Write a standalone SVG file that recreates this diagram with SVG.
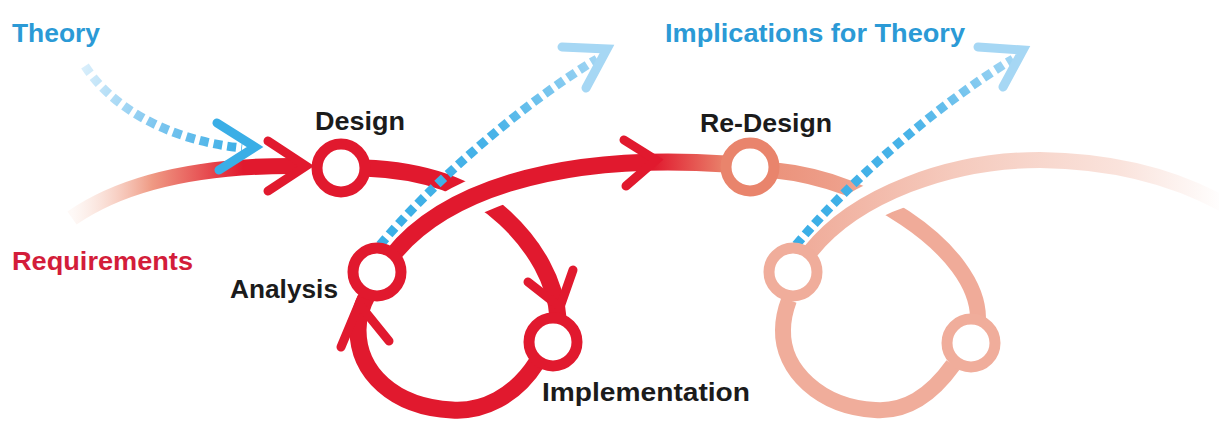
<svg xmlns="http://www.w3.org/2000/svg" width="1219" height="423" viewBox="0 0 1219 423">
<style>
.lbl{font-family:"Liberation Sans",Arial,sans-serif;font-weight:bold;font-size:26px}
.blk{fill:#1b1b1b}
.blu{fill:#2b9ad6}
.redt{fill:#d31d3a}
.red{fill:none;stroke:#e1192e;stroke-width:17}
.chev{fill:none;stroke-width:9;stroke-linecap:round;stroke-linejoin:miter}
.dash{fill:none;stroke-width:9;stroke-dasharray:9 5}
.ring{fill:#ffffff;stroke-width:11}
.case{fill:none;stroke:#ffffff;stroke-width:36}
</style>
<defs>
<linearGradient id="gReq" gradientUnits="userSpaceOnUse" x1="72" y1="0" x2="300" y2="0">
<stop offset="0" stop-color="#f8d6c8" stop-opacity="0.15"/>
<stop offset="0.35" stop-color="#ef9a84"/>
<stop offset="0.75" stop-color="#e1192e"/>
<stop offset="1" stop-color="#e1192e"/>
</linearGradient>
<linearGradient id="gTheory" gradientUnits="userSpaceOnUse" x1="85" y1="66" x2="245" y2="148">
<stop offset="0" stop-color="#d8eefb"/>
<stop offset="0.5" stop-color="#7ec6ef"/>
<stop offset="1" stop-color="#3aaee6"/>
</linearGradient>
<linearGradient id="gUp1" gradientUnits="userSpaceOnUse" x1="380" y1="245" x2="603" y2="55">
<stop offset="0" stop-color="#3aaee6"/>
<stop offset="0.55" stop-color="#48b3e8"/>
<stop offset="1" stop-color="#a6d7f4"/>
</linearGradient>
<linearGradient id="gUp2" gradientUnits="userSpaceOnUse" x1="796" y1="245" x2="1019" y2="55">
<stop offset="0" stop-color="#3aaee6"/>
<stop offset="0.55" stop-color="#48b3e8"/>
<stop offset="1" stop-color="#a6d7f4"/>
</linearGradient>
<linearGradient id="gMain" gradientUnits="userSpaceOnUse" x1="392" y1="0" x2="726" y2="0">
<stop offset="0" stop-color="#e1192e"/>
<stop offset="0.78" stop-color="#e1192e"/>
<stop offset="1" stop-color="#e9846c"/>
</linearGradient>
<linearGradient id="gTail" gradientUnits="userSpaceOnUse" x1="772" y1="0" x2="900" y2="0">
<stop offset="0" stop-color="#eb927b"/>
<stop offset="1" stop-color="#f0ab99"/>
</linearGradient>
<linearGradient id="gLight" gradientUnits="userSpaceOnUse" x1="808" y1="0" x2="1225" y2="0">
<stop offset="0" stop-color="#f0ad9b"/>
<stop offset="0.35" stop-color="#f5cabd"/>
<stop offset="0.75" stop-color="#fae3dc"/>
<stop offset="1" stop-color="#ffffff"/>
</linearGradient>
</defs>
<rect width="1219" height="423" fill="#ffffff"/>

<g id="connectors">
<path d="M 72,218 C 130,178 210,165 300,166" fill="none" stroke="url(#gReq)" stroke-width="16"/>
<path class="chev" d="M 268,141 L 306,166 L 268,191" stroke="#e1192e"/>
<path class="dash" d="M 85,66 C 110,105 165,140 242,148" stroke="url(#gTheory)"/>
<path class="chev" d="M 217,123 L 255,147 L 219,170" stroke="#3aaee6"/>
<path class="red" d="M 364,168 C 420,170 470,185 505,218 C 535,246 556,282 558,318"/>
<path class="chev" d="M 528,282 L 560,307 L 573,270" stroke="#e1192e"/>
<path class="red" d="M 537,362 C 515,397 482,412 452,410 C 393,407 358,372 358,330 C 358,316 362,305 368,294"/>
<path class="chev" d="M 341,347 L 359,304 L 389,341" stroke="#e1192e"/>
<path class="case" d="M 430,222 C 470,195 510,180 560,172"/>
<path d="M 392,256 C 440,195 550,152 726,164" fill="none" stroke="url(#gMain)" stroke-width="17"/>
<path class="chev" d="M 624,140 L 656,160 L 626,186" stroke="#e1192e"/>
<path d="M 772,170 C 830,176 870,195 905,218 C 950,248 978,285 978,318" fill="none" stroke="url(#gTail)" stroke-width="16"/>
<path d="M 953,365 C 930,397 905,412 875,410 C 820,407 782,370 783,330 C 783,318 786,308 789,300" fill="none" stroke="#f0ad9b" stroke-width="16"/>
<path class="case" d="M 830,228 C 850,212 875,198 905,188"/>
<path d="M 810,252 C 855,195 950,160 1040,160 C 1120,161 1180,180 1225,205" fill="none" stroke="url(#gLight)" stroke-width="16"/>
<path class="dash" d="M 380,245 C 430,185 520,105 597,59" stroke="url(#gUp1)"/>
<path class="chev" d="M 562,47 L 607,49 L 586,88" stroke="#a6d7f4"/>
<path class="dash" d="M 796,245 C 846,185 936,105 1013,59" stroke="url(#gUp2)"/>
<path class="chev" d="M 978,47 L 1023,50 L 1003,87" stroke="#a6d7f4"/>
</g>

<g id="design"><circle class="ring" cx="341" cy="168" r="24" stroke="#e1192e"/><text class="lbl blk" x="315" y="130" textLength="90" lengthAdjust="spacingAndGlyphs">Design</text></g>
<g id="analysis"><circle class="ring" cx="377" cy="272" r="24" stroke="#e1192e"/><text class="lbl blk" x="230" y="298" textLength="108" lengthAdjust="spacingAndGlyphs">Analysis</text></g>
<g id="implementation"><circle class="ring" cx="553" cy="342" r="24" stroke="#e1192e"/><text class="lbl blk" x="542" y="401" textLength="208" lengthAdjust="spacingAndGlyphs">Implementation</text></g>
<g id="redesign"><circle class="ring" cx="750" cy="167" r="24" stroke="#e9846c"/><text class="lbl blk" x="700" y="132" textLength="132" lengthAdjust="spacingAndGlyphs">Re-Design</text></g>
<g id="analysis2"><circle class="ring" cx="793" cy="272" r="24" stroke="#f0ad9b"/></g>
<g id="implementation2"><circle class="ring" cx="971" cy="343" r="24" stroke="#f0ad9b"/></g>
<g id="theory"><text class="lbl blu" x="12" y="42" textLength="88" lengthAdjust="spacingAndGlyphs">Theory</text></g>
<g id="implications"><text class="lbl blu" x="665" y="42" textLength="300" lengthAdjust="spacingAndGlyphs">Implications for Theory</text></g>
<g id="requirements"><text class="lbl redt" x="12" y="270" textLength="181" lengthAdjust="spacingAndGlyphs">Requirements</text></g>
</svg>
